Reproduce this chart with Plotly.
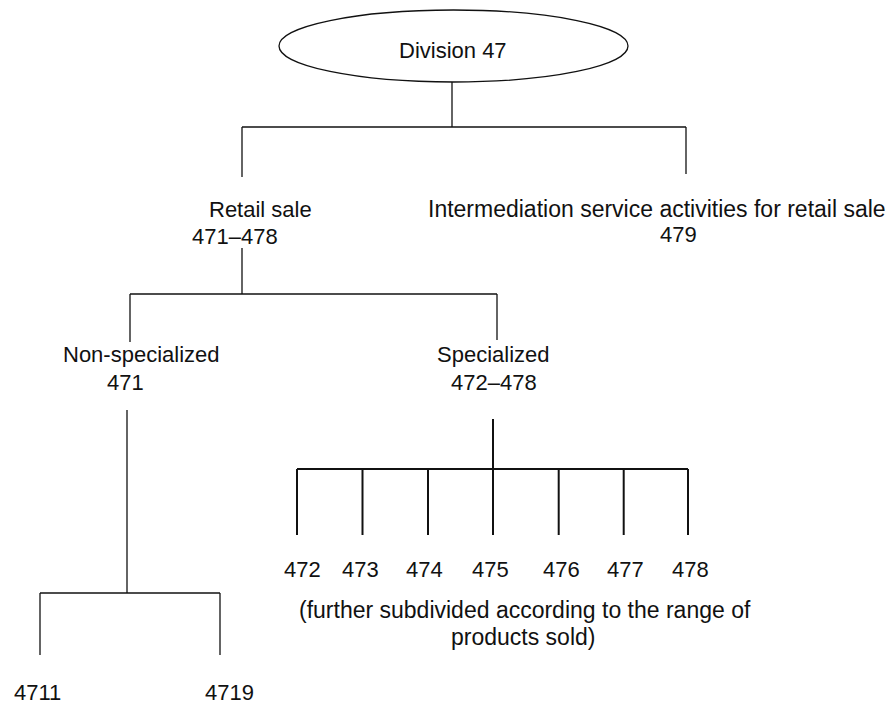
import plotly.graph_objects as go

# ---- content (labels) ----
root_label = "Division 47"
level1_labels = ["Retail sale", "Intermediation service activities for retail sale"]
level1_codes = ["471–478", "479"]
level2_labels = ["Non-specialized", "Specialized"]
level2_codes = ["471", "472–478"]
specialized_codes = ["472", "473", "474", "475", "476", "477", "478"]
nonspecialized_codes = ["4711", "4719"]
note_lines = ["(further subdivided according to the range of", "products sold)"]

# ---- layout positions (page pixel coordinates, y downward) ----
W, H = 895, 704
OFF = 8  # default page body margin; axis ranges are shifted so coords = page pixels
root_box = dict(x0=279, x1=628, y0=10, y1=82)
root_text = (452.5, 50)
l1_text = [(260, 209), (657, 209)]
l1_size = [22, 23]
l1_code = [(234.5, 236), (678, 234)]
l2_text = [(141, 354), (493, 354)]
l2_code = [(125, 382), (493.5, 382)]
spec_code_x = [302.5, 360.5, 424.5, 490, 561.5, 625.5, 690.5]
spec_code_y = 569
nons_code = [(37, 692), (229, 692)]
note_pos = [(525, 610), (523, 637)]

thin_segments = [
    (452, 82, 452, 127),
    (242, 127, 686, 127),
    (242, 127, 242, 177),
    (686, 127, 686, 174),
    (242, 248, 242, 294),
    (130, 294, 497, 294),
    (130, 294, 130, 342),
    (497, 294, 497, 340),
    (127, 410, 127, 593),
    (40, 593, 220, 593),
    (40, 593, 40, 655),
    (220, 593, 220, 655),
]
spec_drop_x = [297, 362.5, 428, 493, 558.7, 623.7, 688]
thick_segments = [(493, 419, 493, 469), (297, 469, 688, 469)] + [
    (x, 469, x, 535) for x in spec_drop_x
]


def seg_xy(segs):
    xs, ys = [], []
    for x0, y0, x1, y1 in segs:
        xs += [x0, x1, None]
        ys += [y0, y1, None]
    return xs, ys


fig = go.Figure()
tx, ty = seg_xy(thin_segments)
fig.add_trace(go.Scatter(x=tx, y=ty, mode="lines",
                         line=dict(color="#111111", width=1.3),
                         hoverinfo="skip", showlegend=False))
kx, ky = seg_xy(thick_segments)
fig.add_trace(go.Scatter(x=kx, y=ky, mode="lines",
                         line=dict(color="#111111", width=2),
                         hoverinfo="skip", showlegend=False))

fig.add_shape(type="circle", xref="x", yref="y", line=dict(color="#111111", width=1.3),
              fillcolor="white", **root_box)

FAMILY = "Liberation Sans, Arial, sans-serif"


def label(text, x, y, size=22):
    fig.add_annotation(x=x, y=y, text=text, showarrow=False,
                       font=dict(family=FAMILY, size=size, color="#111111"),
                       xanchor="center", yanchor="middle", xref="x", yref="y")


label(root_label, *root_text)
for t, p, s in zip(level1_labels, l1_text, l1_size):
    label(t, *p, size=s)
for t, p in zip(level1_codes, l1_code):
    label(t, *p)
for t, p in zip(level2_labels, l2_text):
    label(t, *p)
for t, p in zip(level2_codes, l2_code):
    label(t, *p)
for t, x in zip(specialized_codes, spec_code_x):
    label(t, x, spec_code_y)
for t, p in zip(nonspecialized_codes, nons_code):
    label(t, *p)
for t, p in zip(note_lines, note_pos):
    label(t, *p, size=23)

fig.update_layout(
    width=W, height=H,
    margin=dict(l=0, r=0, t=0, b=0),
    paper_bgcolor="white", plot_bgcolor="white",
    xaxis=dict(range=[OFF, W + OFF], visible=False, fixedrange=True),
    yaxis=dict(range=[H + OFF, OFF], visible=False, fixedrange=True),
    showlegend=False,
)

fig.write_html("out.html")
